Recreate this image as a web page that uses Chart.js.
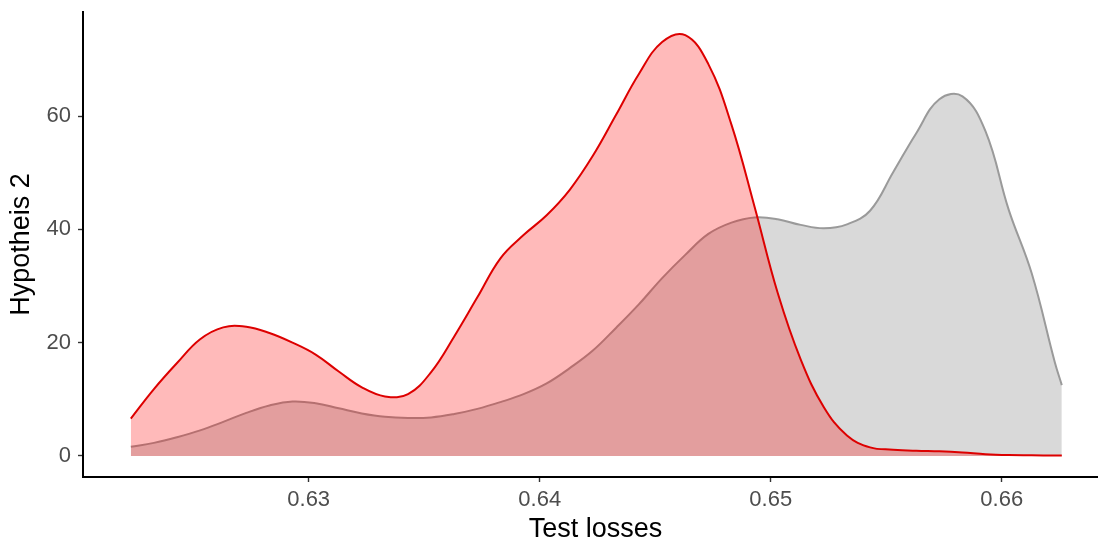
<!DOCTYPE html>
<html>
<head>
<meta charset="utf-8">
<script src="https://cdn.jsdelivr.net/npm/chart.js@4"></script>
<style>
  html, body { margin: 0; padding: 0; background: #fff; overflow: hidden; }
  #wrap { width: 1098px; height: 545px; overflow: hidden; }
</style>
</head>
<body>
<div id="wrap"><canvas id="chart" width="1108" height="545"></canvas></div>
<script>
// Density curves
const losses = [0.6223, 0.6233, 0.6243, 0.6253, 0.6263, 0.6273, 0.6283, 0.6293, 0.6303, 0.6313,
                0.6323, 0.6333, 0.6343, 0.6353, 0.6363, 0.6373, 0.6383, 0.6393, 0.6403, 0.6413,
                0.6423, 0.6433, 0.6443, 0.6453, 0.6463, 0.6473, 0.6483, 0.6493, 0.6503, 0.6513,
                0.6523, 0.6533, 0.6543, 0.6553, 0.6563, 0.6573, 0.6583, 0.6593, 0.6603, 0.6613,
                0.6623, 0.6626];
const redDensity = [6.6, 11.8, 16.4, 20.6, 22.7, 22.8, 21.7, 20.0, 17.9, 14.9,
                    12.1, 10.5, 10.9, 14.8, 21.1, 28.0, 34.9, 39.0, 42.5, 47.0,
                    53.0, 60.2, 67.5, 73.1, 74.3, 69.2, 58.5, 44.0, 28.8, 17.0,
                    8.6, 3.6, 1.5, 1.1, 0.9, 0.8, 0.6, 0.3, 0.15, 0.1,
                    0.05, 0.05];
const greyDensity = [1.6, 2.3, 3.3, 4.5, 6.0, 7.6, 8.9, 9.6, 9.3, 8.4,
                     7.5, 6.9, 6.7, 6.8, 7.4, 8.3, 9.5, 10.9, 12.8, 15.5,
                     18.6, 22.6, 26.8, 31.4, 35.5, 39.2, 41.2, 42.1, 41.8, 40.8,
                     40.2, 40.9, 43.3, 50.1, 57.0, 63.0, 63.5, 57.3, 43.5, 32.2,
                     16.5, 12.5];
const xTicks = [0.63, 0.64, 0.65, 0.66];
const yTicks = [0, 20, 40, 60];

const toPoints = ys => losses.map((x, i) => ({ x: x, y: ys[i] }));

const tickFont = { family: "'Liberation Sans', Arial, sans-serif", size: 22 };
const titleFont = { family: "'Liberation Sans', Arial, sans-serif", size: 27 };

new Chart(document.getElementById("chart"), {
    type: "line",
    data: {
        datasets: [
            {
                label: "grey",
                data: toPoints(greyDensity),
                borderColor: "#9a9a9a",
                backgroundColor: "#d9d9d9",
                borderWidth: 2,
                fill: "origin",
                pointRadius: 0,
                tension: 0.4,
                order: 2
            },
            {
                label: "red",
                data: toPoints(redDensity),
                borderColor: "#dd0000",
                backgroundColor: "rgba(255, 0, 0, 0.27)",
                borderWidth: 2,
                fill: "origin",
                pointRadius: 0,
                tension: 0.4,
                order: 1
            }
        ]
    },
    options: {
        responsive: false,
        animation: false,
        layout: { padding: { top: 12, right: 0, left: 0, bottom: 0 } },
        plugins: { legend: { display: false }, tooltip: { enabled: false } },
        scales: {
            x: {
                type: "linear",
                min: 0.62023,
                max: 0.6646,
                afterBuildTicks: s => { s.ticks = xTicks.map(v => ({ value: v })); },
                afterFit: s => { s.height = 68; s.paddingLeft = 0; s.paddingRight = 0; },
                ticks: {
                    callback: v => v.toFixed(2),
                    color: "#4d4d4d",
                    font: tickFont,
                    padding: 5,
                    maxRotation: 0
                },
                grid: { drawOnChartArea: false, tickLength: 5, color: "#333", tickWidth: 1.4 },
                border: { display: true, color: "#000", width: 2 },
                title: { display: true, text: "Test losses", color: "#000", font: titleFont, padding: { top: 0, bottom: -1 } }
            },
            y: {
                min: -3.73,
                max: 78.4,
                afterBuildTicks: s => { s.ticks = yTicks.map(v => ({ value: v })); },
                afterFit: s => { s.width = 83; s.paddingTop = 0; s.paddingBottom = 0; },
                ticks: {
                    callback: v => String(v),
                    color: "#4d4d4d",
                    font: tickFont,
                    padding: 7
                },
                grid: { drawOnChartArea: false, tickLength: 5, color: "#333", tickWidth: 1.4 },
                border: { display: true, color: "#000", width: 2 },
                title: { display: true, text: "Hypotheis 2", color: "#000", font: titleFont, padding: { top: 5, bottom: 0 } }
            }
        }
    }
});
</script>
</body>
</html>
